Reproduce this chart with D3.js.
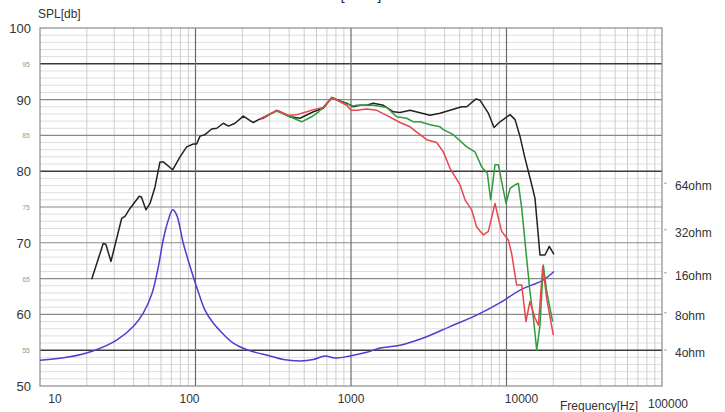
<!DOCTYPE html>
<html>
<head>
<meta charset="utf-8">
<script src="https://cdn.jsdelivr.net/npm/d3@7"></script>
<style>
    html, body { margin: 0; padding: 0; background: #fff; }
    svg { display: block; font-family: Arial, "Liberation Sans", sans-serif; }
</style>
</head>
<body>
<svg width="725" height="412"></svg>
<script>
// Частотная характеристика (SPL) и импеданс, [частота Гц, уровень дБ]
const splBlack = [
    [21.5, 64.9], [25.5, 69.9], [26.5, 69.8], [28.6, 67.4], [33.5, 73.4], [35.2, 73.7],
    [37.9, 74.8], [43.5, 76.5], [44.9, 76.4], [48.0, 74.6], [51, 75.5], [54.9, 77.8],
    [59.1, 81.3], [62.1, 81.3], [71.3, 80.2], [79.5, 82.0], [87.7, 83.4], [96.8, 83.8],
    [101.8, 83.8], [106.9, 84.9], [115, 85.1], [127, 85.9], [137, 86.0], [151, 86.7],
    [163, 86.3], [179.5, 86.7], [203, 87.7], [235, 86.8], [260, 87.3], [273, 87.4],
    [333, 88.5], [349, 88.3], [405, 87.6], [470, 87.4], [573, 88.3], [664, 88.8],
    [752, 90.3], [850, 89.8], [938, 89.5], [1035, 89.0], [1143, 89.2], [1262, 89.2],
    [1393, 89.5], [1615, 89.2], [1872, 88.3], [2066, 88.2], [2396, 88.5], [3221, 87.8],
    [3736, 88.1], [4331, 88.5], [5152, 89.0], [5549, 89.0], [6368, 90.1], [6761, 89.9],
    [7643, 88.1], [8318, 86.1], [9086, 86.9], [10540, 87.9], [11350, 87.2], [12230, 84.8],
    [13160, 81.8], [14530, 78.1], [15250, 76.2], [16420, 68.3], [17690, 68.3],
    [18850, 69.5], [20190, 68.4]
];

const splRed = [
    [260, 87.3], [333, 88.5], [400, 87.8], [450, 87.9], [520, 88.3], [573, 88.6],
    [664, 88.9], [752, 90.3], [850, 89.7], [938, 89.2], [1000, 88.5], [1088, 88.5],
    [1262, 88.7], [1463, 88.5], [1698, 87.8], [2066, 86.8], [2396, 86.2], [2780, 85.1],
    [3069, 84.4], [3556, 84.0], [3926, 82.7], [4331, 80.4], [5026, 78.1], [5411, 76.0],
    [5970, 74.6], [6430, 72.2], [7099, 71.1], [7643, 71.6], [8436, 75.5], [8872, 73.4],
    [9313, 71.6], [10270, 70.4], [10790, 68.5], [11620, 64.1], [12530, 64.1],
    [13340, 59.0], [14150, 61.8], [15250, 59.5], [16040, 58.5], [17100, 66.7],
    [18140, 62.2], [20000, 57.1]
];

const splGreen = [
    [260, 87.3], [333, 88.4], [416, 87.5], [482, 86.9], [558, 87.6], [620, 88.3],
    [752, 90.2], [850, 89.8], [938, 89.4], [1035, 89.1], [1088, 89.2], [1393, 89.2],
    [1698, 88.9], [1967, 87.6], [2280, 87.4], [2518, 86.9], [2780, 86.9], [3221, 86.5],
    [3736, 86.2], [3926, 85.8], [4550, 85.1], [5549, 83.4], [6270, 82.7], [6925, 80.6],
    [7530, 79.7], [7910, 76.0], [8436, 80.9], [8872, 80.9], [9313, 78.5], [9929, 75.5],
    [10540, 77.6], [11350, 78.1], [11920, 78.3], [12530, 74.8], [13340, 68.8],
    [14150, 63.2], [14890, 59.5], [15640, 55.0], [16420, 58.5], [17250, 66.9],
    [18140, 63.2], [19800, 59.0]
];

const impedance = [
    [10, 53.6], [14.9, 54.0], [22.6, 55.0], [31.1, 56.4], [39.8, 58.3], [46.2, 60.2],
    [52.3, 62.8], [57.5, 66.5], [62.1, 70.5], [66.9, 73.2], [71.3, 74.6], [75.6, 73.9],
    [83.5, 69.9], [94.4, 66.0], [104, 63.2], [115, 60.6], [130, 58.8], [150, 57.3],
    [175, 56.0], [219, 55.0], [301, 54.2], [367, 53.7], [470, 53.5], [573, 53.7],
    [681, 54.2], [789, 53.9], [986, 54.2], [1262, 54.7], [1535, 55.3], [2066, 55.7],
    [2917, 56.7], [4331, 58.3], [6430, 59.9], [8872, 61.5], [12230, 63.4],
    [17180, 64.8], [20190, 66.0]
];

// Подписи осей
const freqTicks = [10, 100, 1000, 10000, 100000];
const splMajorTicks = [100, 90, 80, 70, 60, 50];
const splMinorTicks = [95, 85, 75, 65, 55];
const darkLevels = [95, 80, 55];
const ohmLabels = ["64ohm", "32ohm", "16ohm", "8ohm", "4ohm"];
const ohmLevels = [77.9, 71.4, 65.4, 59.8, 54.6];

const svg = d3.select("svg");

const area = { left: 40, right: 662, top: 28, bottom: 386 };

const scaleX = d3.scaleLog()
    .domain([10, 100000])
    .range([area.left, area.right]);

const scaleY = d3.scaleLinear()
    .domain([50, 100])
    .range([area.bottom, area.top]);

drawGrid();
drawCurves();
drawLabels();

function drawGrid() {
    const grid = svg.append("g");

    // мелкие горизонтальные линии через 1 дБ
    grid.selectAll(".h-minor")
        .data(d3.range(51, 100).filter(d => d % 5 !== 0))
        .enter()
        .append("line")
        .attr("x1", area.left).attr("x2", area.right)
        .attr("y1", d => scaleY(d)).attr("y2", d => scaleY(d))
        .attr("stroke", "#dedede")
        .attr("stroke-width", 1);

    // мелкие вертикальные линии 2..9 в каждой декаде
    let minorFreq = [];
    for (let dec of [10, 100, 1000, 10000]) {
        for (let k = 2; k <= 9; k++) minorFreq.push(dec * k);
    }
    grid.selectAll(".v-minor")
        .data(minorFreq)
        .enter()
        .append("line")
        .attr("x1", d => scaleX(d)).attr("x2", d => scaleX(d))
        .attr("y1", area.top).attr("y2", area.bottom)
        .attr("stroke", "#cdcdcd")
        .attr("stroke-width", 1);

    // линии через 5 дБ
    grid.selectAll(".h-major")
        .data(d3.range(55, 100, 5))
        .enter()
        .append("line")
        .attr("x1", area.left).attr("x2", area.right)
        .attr("y1", d => scaleY(d)).attr("y2", d => scaleY(d))
        .attr("stroke", d => darkLevels.includes(d) ? "#3a3a3a" : "#8a8a8a")
        .attr("stroke-width", d => darkLevels.includes(d) ? 1.4 : 1.1);

    // декады
    grid.selectAll(".v-major")
        .data(freqTicks.slice(1, -1))
        .enter()
        .append("line")
        .attr("x1", d => scaleX(d)).attr("x2", d => scaleX(d))
        .attr("y1", area.top).attr("y2", area.bottom)
        .attr("stroke", "#6a6a6a")
        .attr("stroke-width", 1.2);

    grid.append("rect")
        .attr("x", area.left).attr("y", area.top)
        .attr("width", area.right - area.left)
        .attr("height", area.bottom - area.top)
        .attr("fill", "none")
        .attr("stroke", "#8a8a8a")
        .attr("stroke-width", 1.2);

    // засечки шкалы импеданса справа
    grid.selectAll(".ohm-tick")
        .data(ohmLevels)
        .enter()
        .append("line")
        .attr("x1", area.right + 2).attr("x2", area.right + 5)
        .attr("y1", d => scaleY(d) - 3).attr("y2", d => scaleY(d) - 3)
        .attr("stroke", "#aaa")
        .attr("stroke-width", 1);
}

function drawCurves() {
    const line = d3.line()
        .x(d => scaleX(d[0]))
        .y(d => scaleY(d[1]));

    const smooth = d3.line()
        .x(d => scaleX(d[0]))
        .y(d => scaleY(d[1]))
        .curve(d3.curveCatmullRom);

    const series = [
        { data: impedance, color: "#4a3fd0", gen: smooth },
        { data: splBlack, color: "#222222", gen: line },
        { data: splGreen, color: "#2f9b3c", gen: line },
        { data: splRed, color: "#e8464c", gen: line }
    ];

    svg.append("g")
        .selectAll("path")
        .data(series)
        .enter()
        .append("path")
        .attr("fill", "none")
        .attr("stroke", d => d.color)
        .attr("stroke-width", 1.5)
        .attr("stroke-linejoin", "round")
        .attr("d", d => d.gen(d.data));
}

function drawLabels() {
    const labels = svg.append("g").attr("fill", "#333");

    labels.append("text")
        .attr("x", 38).attr("y", 18)
        .style("font-size", "12px")
        .text("SPL[db]");

    // обрезанный заголовок сверху
    labels.append("text")
        .attr("x", 361).attr("y", 0)
        .attr("text-anchor", "middle")
        .style("font-size", "15px")
        .text("[Ohm]");

    labels.selectAll(".y-major")
        .data(splMajorTicks)
        .enter()
        .append("text")
        .attr("x", 31)
        .attr("y", d => scaleY(d) + 5)
        .attr("text-anchor", "end")
        .style("font-size", "13px")
        .text(d => d);

    labels.selectAll(".y-minor")
        .data(splMinorTicks)
        .enter()
        .append("text")
        .attr("x", 30)
        .attr("y", d => scaleY(d) + 3)
        .attr("text-anchor", "end")
        .attr("fill", "#9a9a9a")
        .style("font-size", "7px")
        .text(d => d);

    // сдвиги подписей частот как на исходнике
    const nudge = { 10: 15, 100: -6, 1000: 0, 10000: 15, 100000: 6 };
    labels.selectAll(".x-tick")
        .data(freqTicks)
        .enter()
        .append("text")
        .attr("x", d => scaleX(d) + nudge[d])
        .attr("y", d => d === 100000 ? 408 : 403)
        .attr("text-anchor", "middle")
        .style("font-size", "12px")
        .text(d => d);

    labels.append("text")
        .attr("x", 599).attr("y", 410)
        .attr("text-anchor", "middle")
        .style("font-size", "12px")
        .text("Frequency[Hz]");

    labels.selectAll(".ohm")
        .data(ohmLabels)
        .enter()
        .append("text")
        .attr("x", 675)
        .attr("y", (d, i) => scaleY(ohmLevels[i]) + 4)
        .style("font-size", "12px")
        .text(d => d);
}
</script>
</body>
</html>
